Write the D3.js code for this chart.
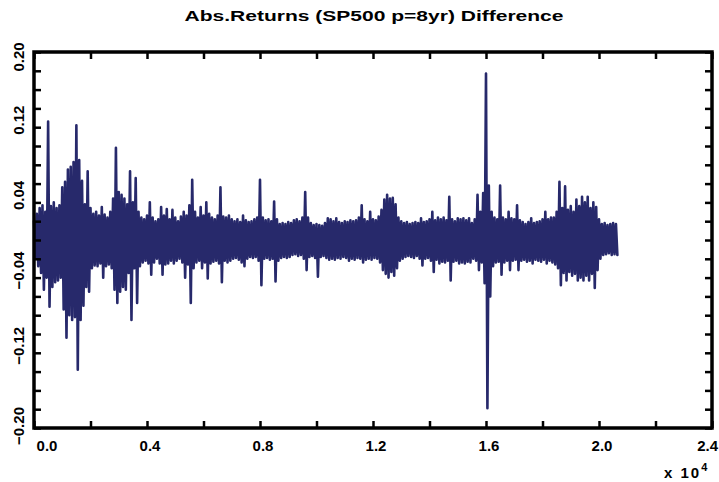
<!DOCTYPE html>
<html>
<head>
<meta charset="utf-8">
<script src="https://cdn.jsdelivr.net/npm/d3@7/dist/d3.min.js"></script>
<style>
  html, body { margin: 0; padding: 0; background: #ffffff; }
  svg { display: block; }
  text { font-family: "Liberation Sans", Arial, sans-serif; font-weight: bold; fill: #000; }
</style>
</head>
<body>
<svg id="chart" width="719" height="482"></svg>
<script>
// ---- data ----
const title = "Abs.Returns (SP500 p=8yr) Difference";
// sample spacing of the envelope readings (in x units, 1 unit = 1 trading day)
const sampleStep = 100;
// upper peaks of the series, one per 100 samples (x = i*100)
const upperPeaks = [
  0.020,0.028,0.034,0.037,0.030,0.126,0.036,0.040,0.034,0.037,
  0.056,0.062,0.075,0.078,0.083,0.122,0.085,0.063,0.038,0.073,
  0.034,0.028,0.030,0.026,0.035,0.027,0.024,0.030,0.044,0.098,
  0.051,0.048,0.044,0.038,0.073,0.040,0.066,0.030,0.024,0.022,
  0.026,0.040,0.024,0.020,0.022,0.035,0.026,0.033,0.022,0.032,
  0.024,0.020,0.025,0.030,0.026,0.037,0.064,0.030,0.024,0.035,
  0.026,0.040,0.028,0.024,0.022,0.026,0.056,0.025,0.024,0.026,
  0.022,0.020,0.022,0.019,0.026,0.021,0.019,0.020,0.022,0.024,
  0.064,0.024,0.021,0.022,0.020,0.041,0.022,0.017,0.018,0.017,
  0.019,0.018,0.021,0.022,0.020,0.024,0.051,0.024,0.018,0.016,
  0.017,0.016,0.015,0.018,0.023,0.022,0.020,0.023,0.019,0.018,
  0.020,0.019,0.021,0.020,0.021,0.024,0.037,0.022,0.020,0.030,
  0.022,0.021,0.025,0.032,0.043,0.048,0.044,0.045,0.038,0.024,
  0.020,0.018,0.019,0.017,0.018,0.019,0.018,0.023,0.019,0.020,
  0.022,0.030,0.021,0.024,0.022,0.024,0.021,0.046,0.022,0.020,
  0.023,0.022,0.023,0.021,0.023,0.018,0.022,0.048,0.030,0.050,
  0.177,0.058,0.030,0.024,0.022,0.058,0.024,0.022,0.030,0.023,
  0.022,0.037,0.021,0.019,0.017,0.019,0.023,0.018,0.019,0.020,
  0.022,0.030,0.022,0.024,0.024,0.030,0.062,0.034,0.057,0.032,
  0.036,0.030,0.043,0.036,0.046,0.040,0.046,0.034,0.040,0.035,
  0.022,0.017,0.018,0.016,0.017,0.018,0.017
];
// lower troughs of the series, one per 100 samples (x = i*100 + 50)
const lowerTroughs = [
  -0.020,-0.028,-0.035,-0.053,-0.040,-0.071,-0.050,-0.045,-0.043,-0.040,
  -0.074,-0.104,-0.080,-0.085,-0.082,-0.138,-0.085,-0.070,-0.050,-0.055,
  -0.030,-0.027,-0.028,-0.025,-0.040,-0.028,-0.026,-0.030,-0.053,-0.067,
  -0.055,-0.050,-0.053,-0.035,-0.085,-0.030,-0.067,-0.028,-0.024,-0.022,
  -0.025,-0.037,-0.024,-0.020,-0.025,-0.037,-0.026,-0.025,-0.022,-0.025,
  -0.022,-0.020,-0.024,-0.040,-0.026,-0.067,-0.030,-0.024,-0.022,-0.030,
  -0.024,-0.041,-0.025,-0.023,-0.022,-0.025,-0.045,-0.022,-0.024,-0.022,
  -0.020,-0.019,-0.021,-0.024,-0.028,-0.020,-0.018,-0.019,-0.018,-0.022,
  -0.048,-0.020,-0.019,-0.021,-0.020,-0.044,-0.022,-0.019,-0.018,-0.019,
  -0.018,-0.016,-0.015,-0.017,-0.016,-0.020,-0.032,-0.018,-0.017,-0.019,
  -0.039,-0.018,-0.017,-0.019,-0.021,-0.020,-0.021,-0.019,-0.020,-0.018,
  -0.019,-0.022,-0.020,-0.021,-0.019,-0.020,-0.024,-0.021,-0.020,-0.021,
  -0.019,-0.020,-0.024,-0.032,-0.036,-0.040,-0.034,-0.038,-0.030,-0.022,
  -0.020,-0.018,-0.017,-0.018,-0.019,-0.017,-0.020,-0.027,-0.020,-0.019,
  -0.022,-0.034,-0.021,-0.025,-0.023,-0.024,-0.022,-0.043,-0.023,-0.022,
  -0.025,-0.024,-0.025,-0.023,-0.024,-0.020,-0.022,-0.032,-0.024,-0.046,
  -0.179,-0.060,-0.028,-0.024,-0.023,-0.037,-0.024,-0.022,-0.032,-0.022,
  -0.021,-0.032,-0.022,-0.021,-0.023,-0.022,-0.025,-0.021,-0.022,-0.023,
  -0.021,-0.025,-0.022,-0.024,-0.026,-0.030,-0.048,-0.035,-0.043,-0.034,
  -0.038,-0.036,-0.043,-0.040,-0.043,-0.038,-0.043,-0.036,-0.051,-0.032,
  -0.020,-0.016,-0.015,-0.014,-0.016,-0.015,-0.016
];
const xTickLabels = ["0.0","0.4","0.8","1.2","1.6","2.0","2.4"];
const xTickValues = [0, 4000, 8000, 12000, 16000, 20000, 24000];
const yTickLabels = ["-0.20","-0.12","-0.04","0.04","0.12","0.20"];
const yTickValues = [-0.20, -0.12, -0.04, 0.04, 0.12, 0.20];
const xDomain = [0, 24000];
const yDomain = [-0.20, 0.20];

// ---- layout ----
const svg = d3.select("#chart");
const L = 34, R = 712, T = 52, B = 428;
const x = d3.scaleLinear().domain(xDomain).range([L, R]);
const y = d3.scaleLinear().domain(yDomain).range([B, T]);
const lineColor = "#27296b";

svg.append("rect").attr("width", 719).attr("height", 482).attr("fill", "#fff");

// series
const points = [];
upperPeaks.forEach((v, i) => {
  points.push([i * sampleStep, v]);
  points.push([i * sampleStep + sampleStep / 2, lowerTroughs[i]]);
});
svg.append("path")
  .datum(points)
  .attr("fill", "none")
  .attr("stroke", lineColor)
  .attr("stroke-width", 2.6)
  .attr("stroke-linejoin", "round")
  .attr("stroke-linecap", "round")
  .attr("d", d3.line().x(d => x(d[0])).y(d => y(d[1])));

// axes with inward ticks
const tickLen = 7;
const xMinor = d3.range(0, 24001, 2000);
const yMinor = d3.range(-0.20, 0.2001, 0.02);
const gBottom = svg.append("g").attr("transform", `translate(0,${B})`)
  .call(d3.axisBottom(x).tickValues(xMinor).tickSize(-tickLen).tickFormat(""));
const gTop = svg.append("g").attr("transform", `translate(0,${T})`)
  .call(d3.axisTop(x).tickValues(xMinor).tickSize(-tickLen).tickFormat(""));
const gLeft = svg.append("g").attr("transform", `translate(${L},0)`)
  .call(d3.axisLeft(y).tickValues(yMinor).tickSize(-tickLen).tickFormat(""));
const gRight = svg.append("g").attr("transform", `translate(${R},0)`)
  .call(d3.axisRight(y).tickValues(yMinor).tickSize(-tickLen).tickFormat(""));
[gBottom, gTop, gLeft, gRight].forEach(g => {
  g.selectAll(".domain").remove();
  g.selectAll(".tick line").attr("stroke", "#000").attr("stroke-width", 2.5);
});

// frame
svg.append("rect")
  .attr("x", L).attr("y", T).attr("width", R - L).attr("height", B - T)
  .attr("fill", "none").attr("stroke", "#000").attr("stroke-width", 3.5);

// x tick labels
svg.append("g").selectAll("text").data(xTickValues).join("text")
  .attr("x", (d, i) => i === 0 ? x(d) + 13 : (i === xTickValues.length - 1 ? 718 : x(d) + 3))
  .attr("y", 451)
  .attr("text-anchor", (d, i) => i === xTickValues.length - 1 ? "end" : "middle")
  .attr("font-size", 15)
  .text((d, i) => xTickLabels[i]);

// y tick labels (rotated)
svg.append("g").selectAll("text").data(yTickValues).join("text")
  .attr("transform", (d, i) => {
    const off = (i === 0) ? -2 : (i === yTickValues.length - 1 ? 5 : -7);
    return `translate(24,${y(d) + off}) rotate(-90)`;
  })
  .attr("text-anchor", "middle")
  .attr("font-size", 15)
  .text((d, i) => yTickLabels[i].replace("-", "\u2212"));

// exponent label
const ex = svg.append("text").attr("x", 664).attr("y", 478).attr("font-size", 15);
ex.append("tspan").attr("letter-spacing", 2).text("x 10");
ex.append("tspan").attr("dy", -7).attr("font-size", 11).text("4");

// title
svg.append("text")
  .attr("x", 374).attr("y", 21)
  .attr("text-anchor", "middle")
  .attr("font-size", 15)
  .attr("textLength", 379)
  .attr("lengthAdjust", "spacingAndGlyphs")
  .text(title);
</script>
</body>
</html>
